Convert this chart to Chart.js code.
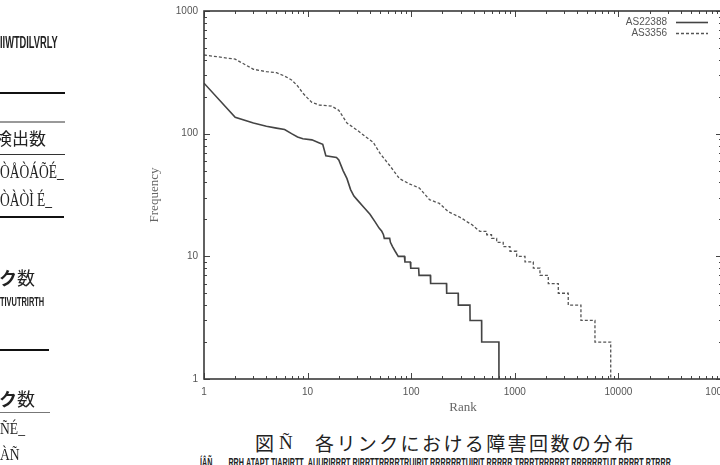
<!DOCTYPE html>
<html><head><meta charset="utf-8">
<script src="https://cdn.jsdelivr.net/npm/chart.js@4/dist/chart.umd.min.js"></script>
<style>
html,body{margin:0;padding:0;background:#fff;width:720px;height:465px;overflow:hidden;position:relative;}
#wrap{position:absolute;left:0;top:0;width:740px;height:420px;}
.t{position:absolute;white-space:nowrap;color:#222;font-family:"Noto Sans CJK JP",sans-serif;line-height:1;}
.g{position:absolute;white-space:nowrap;color:#222;font-family:"Liberation Sans Narrow","Liberation Sans",sans-serif;font-weight:bold;line-height:1;transform-origin:0 0;}
.hl{position:absolute;background:#111;}
</style></head><body>
<div id="wrap"><canvas id="c" width="740" height="420"></canvas></div>

<!-- left column fragments of the scanned page -->
<div class="g" style="left:0;top:35px;font-size:16px;transform:scaleX(0.58)">IIWTDILVRLY</div>
<div class="hl" style="left:0;top:92px;width:65px;height:2px"></div>
<div class="hl" style="left:0;top:121px;width:65px;height:1.5px;background:#999"></div>
<div class="t" style="left:-5px;top:129px;font-size:17px">検出数</div>
<div class="hl" style="left:0;top:154px;width:65px;height:1px;background:#333"></div>
<div class="g" style="left:0;top:163px;font-size:18px;font-weight:normal;font-family:'Liberation Serif',serif;transform:scaleX(0.75)">ÒÅÒÁÕÉ_</div>
<div class="g" style="left:0;top:191px;font-size:18px;font-weight:normal;font-family:'Liberation Serif',serif;transform:scaleX(0.75)">ÒÀÒÌ É_</div>
<div class="hl" style="left:0;top:216px;width:64px;height:2px"></div>
<div class="t" style="left:-1px;top:268px;font-size:18px"><b>ク</b>数</div>
<div class="g" style="left:0;top:296px;font-size:12px;transform:scaleX(0.62)">TIVUTRIRTH</div>
<div class="hl" style="left:0;top:349px;width:49px;height:2px"></div>
<div class="t" style="left:-1px;top:389px;font-size:18px"><b>ク</b>数</div>
<div class="hl" style="left:0;top:412px;width:50px;height:1px;background:#777"></div>
<div class="g" style="left:0;top:420px;font-size:17px;font-weight:normal;font-family:'Liberation Serif',serif;transform:scaleX(0.8)">ÑÉ_</div>
<div class="g" style="left:0;top:446px;font-size:17px;font-weight:normal;font-family:'Liberation Serif',serif;transform:scaleX(0.8)">ÀÑ</div>

<!-- caption -->
<div class="t" style="left:255px;top:433px;font-size:19px">図</div>
<div class="t" style="left:279px;top:433px;font-size:19px;font-family:'Liberation Serif',serif">Ñ</div>
<div class="t" style="left:315px;top:433px;font-size:19px;letter-spacing:2.4px">各リンクにおける障害回数の分布</div>
<div class="g" style="left:200px;top:457px;font-size:12px;transform:scaleX(0.6)">ÍÂÑ&nbsp;&nbsp;&nbsp;&nbsp;&nbsp;&nbsp;&nbsp;&nbsp;RRH&nbsp;ATAPT&nbsp;TIARIRTT&nbsp;&nbsp;AUURIRRRT&nbsp;RIRRTTRRRRTRUIRIT&nbsp;RRRRRRTUIRIT&nbsp;RRRRR&nbsp;TRRRTRRRRRT&nbsp;RRRRRRTUT&nbsp;RRRRT&nbsp;RTRRR</div>

<script>
// ---- data ----
const seriesNames = ['AS22388', 'AS3356'];

const rankA = [1,2,3,4,5,6,7,8,9,11,13,14,15,19,20,22,24,26,28,30,35,40,45,49,52,54,55,62,63,66,70,75,86,87,98,99,118,119,153,154,219,220,284,285,369,370,478,479,702,703];
const freqA = [258,136,122,115,111,108,100,94,91,89,84,82,66,64,61,50,43,35,31,29,25,22,19,17,16,15,14,14,13,12,11,10,10,9,9,8,8,7,7,6,6,5,5,4,4,3,3,2,2,1];

const rankB = [1,2,3,4,5,6,7,8,9,10,11,13,17,20,24,30,36,43,50,62,77,96,120,150,187,230,290,320,350,390,420,460,535,536,596,597,668,669,773,774,898,899,1042,1043,1254,1255,1509,1510,1749,1750,2104,2105,2629,2630,3279,3280,4349,4350,5939,5940,8429,8430];
const freqB = [438,405,335,320,314,295,274,245,214,195,180,171,168,155,122,107,95,85,69,55,43,39,36,29,27,23,21,20,19,18,17,16,16,15,15,14,14,13,13,12,12,11,11,10,10,9,9,8,8,7,7,6,6,5,5,4,4,3,3,2,2,1];

const xTickValues = [1, 10, 100, 1000, 10000, 100000];
const yTickValues = [1, 10, 100, 1000];
const xTitle = 'Rank';
const yTitle = 'Frequency';

function pts(r, f) { return r.map((v, i) => ({x: v, y: f[i]})); }

const frame = {
  id: 'frame',
  afterDatasetsDraw(chart) {
    const {ctx, chartArea: a, scales: {x, y}} = chart;
    ctx.save();
    ctx.strokeStyle = '#444';
    ctx.lineWidth = 1;
    const tick = (axis, v, len) => {
      if (axis === 'x') {
        const p = Math.round(x.getPixelForValue(v)) + 0.5;
        ctx.beginPath();
        ctx.moveTo(p, a.bottom); ctx.lineTo(p, a.bottom - len);
        ctx.moveTo(p, a.top); ctx.lineTo(p, a.top + len);
        ctx.stroke();
      } else {
        const p = Math.round(y.getPixelForValue(v)) + 0.5;
        ctx.beginPath();
        ctx.moveTo(a.left, p); ctx.lineTo(a.left + len, p);
        ctx.moveTo(a.right, p); ctx.lineTo(a.right - len, p);
        ctx.stroke();
      }
    };
    xTickValues.forEach((d, i) => {
      tick('x', d, 6);
      if (i < xTickValues.length - 1) for (let m = 2; m < 10; m++) tick('x', d * m, 3);
    });
    yTickValues.forEach((d, i) => {
      tick('y', d, 6);
      if (i < yTickValues.length - 1) for (let m = 2; m < 10; m++) tick('y', d * m, 3);
    });
    ctx.lineWidth = 1.6;
    ctx.strokeStyle = '#3a3a3a';
    ctx.strokeRect(a.left, a.top, a.right - a.left, a.bottom - a.top);

    // gnuplot-style key: text then line sample, top right inside the plot
    ctx.font = '10px "Liberation Sans", Arial, sans-serif';
    ctx.textAlign = 'right';
    ctx.textBaseline = 'middle';
    chart.data.datasets.forEach((ds, i) => {
      const yy = a.top + 11 + i * 11;
      ctx.fillStyle = '#555';
      ctx.fillText(ds.label, a.right - 55, yy);
      ctx.strokeStyle = ds.borderColor;
      ctx.lineWidth = ds.borderWidth;
      ctx.setLineDash(ds.borderDash || []);
      ctx.beginPath();
      ctx.moveTo(a.right - 46, yy + 0.5);
      ctx.lineTo(a.right - 14, yy + 0.5);
      ctx.stroke();
      ctx.setLineDash([]);
    });
    ctx.restore();
  }
};

new Chart(document.getElementById('c'), {
  type: 'line',
  data: {
    datasets: [
      {label: seriesNames[0], data: pts(rankA, freqA), borderColor: '#444', borderWidth: 1.6,
       pointRadius: 0, fill: false, tension: 0},
      {label: seriesNames[1], data: pts(rankB, freqB), borderColor: '#555', borderWidth: 1.3,
       borderDash: [3, 2], pointRadius: 0, fill: false, tension: 0}
    ]
  },
  options: {
    responsive: false,
    animation: false,
    events: [],
    layout: {padding: {left: 140, top: 11, right: 18, bottom: 0}},
    plugins: {legend: {display: false}, tooltip: {enabled: false}},
    scales: {
      x: {
        type: 'logarithmic', min: 1, max: 100000,
        grid: {display: false, drawTicks: false},
        border: {display: false},
        afterBuildTicks(s) { s.ticks = xTickValues.map(v => ({value: v})); },
        afterFit(s) { s.height = 41; s.paddingLeft = 0; s.paddingRight = 0; },
        ticks: {autoSkip: false, maxRotation: 0, padding: 7, color: '#555',
                font: {family: '"Liberation Sans", Arial, sans-serif', size: 10},
                callback: v => String(v)},
        title: {display: true, text: xTitle, color: '#666', padding: {top: 0, bottom: 5},
                font: {family: '"Liberation Serif", "Times New Roman", serif', size: 13}}
      },
      y: {
        type: 'logarithmic', min: 1, max: 1000,
        grid: {display: false, drawTicks: false},
        border: {display: false},
        afterBuildTicks(s) { s.ticks = yTickValues.map(v => ({value: v})); },
        afterFit(s) { s.width = 64; s.paddingTop = 0; s.paddingBottom = 0; },
        ticks: {autoSkip: false, padding: 6, color: '#555',
                font: {family: '"Liberation Sans", Arial, sans-serif', size: 10},
                callback: v => String(v)},
        title: {display: true, text: yTitle, color: '#666', padding: {top: 7, bottom: 0},
                font: {family: '"Liberation Serif", "Times New Roman", serif', size: 13}}
      }
    }
  },
  plugins: [frame]
});
</script>
</body></html>
